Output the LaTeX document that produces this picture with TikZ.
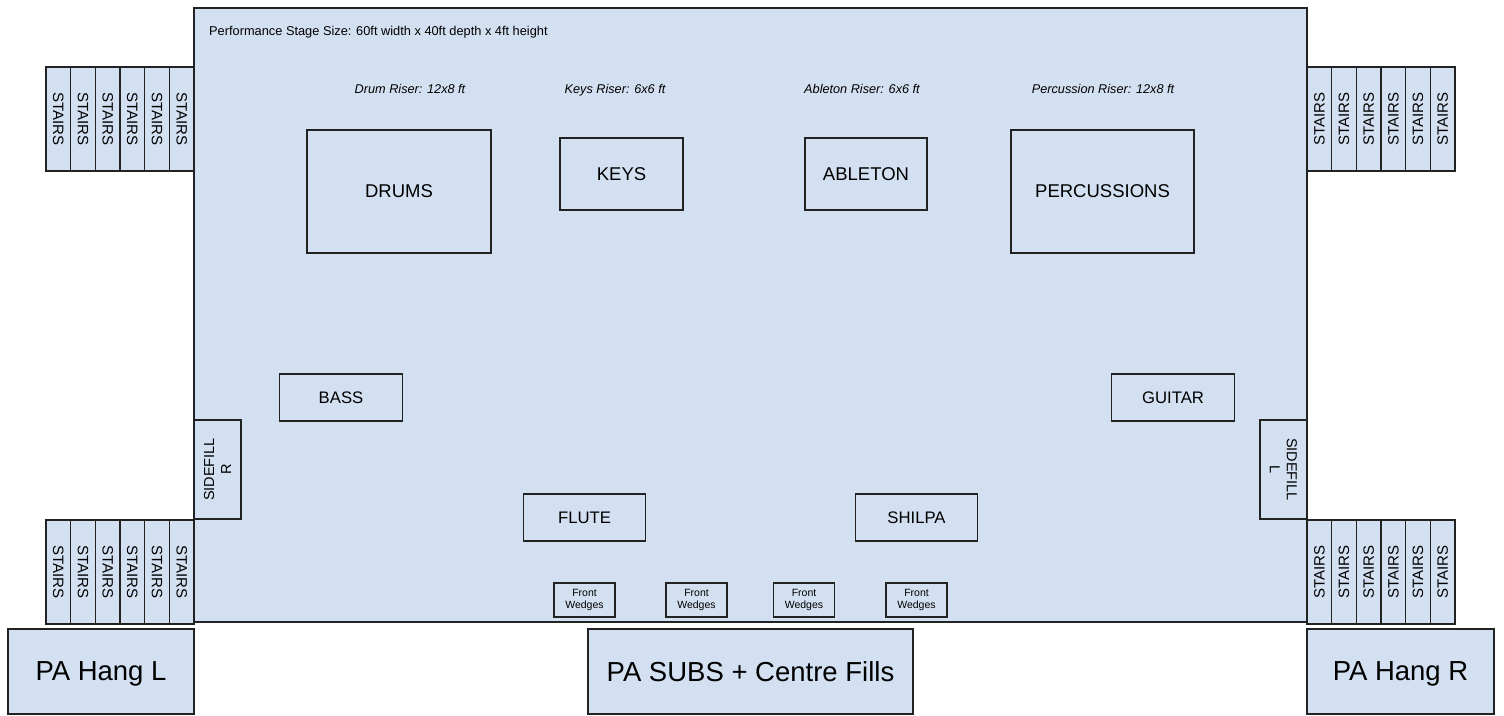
\documentclass[tikz,border=0pt]{standalone}
\usepackage{fontspec}
\setmainfont{Liberation Sans}
\usetikzlibrary{positioning}
\definecolor{stageblue}{RGB}{211,224,241}
\definecolor{edgegrey}{RGB}{34,34,34}
\newcommand{\fsz}[2]{\fontsize{#1}{#2}\selectfont}

\begin{document}
\begin{tikzpicture}[x=1pt, y=-1pt,
  box/.style={draw=edgegrey, line width=1.2pt, fill=stageblue, inner sep=0pt, align=center},
  stairbox/.style={box, minimum width=104, minimum height=24.67, font=\fsz{15}{17}},
  riserbox/.style={box, font=\fsz{18.5}{22}},
  playerbox/.style={box, minimum width=122.5, minimum height=47, font=\fsz{16.7}{20}},
  wedgebox/.style={box, minimum width=61, minimum height=34, font=\fsz{10.5}{12.5}},
  sidebox/.style={box, minimum width=99, minimum height=47, font=\fsz{14.5}{17}},
  pabox/.style={box, minimum height=85, text depth=0pt, font=\fsz{27.5}{32}},
  riserlabel/.style={anchor=base, inner sep=0pt, font=\fsz{12.7}{15}\itshape}
  ]
  \useasboundingbox (0,0) rectangle (1504,715);

  % stage
  \node [box, minimum width=1113, minimum height=614] (stage) at (750.5,315) {};
  \node [anchor=base west, inner sep=0pt, font=\fsz{12.8}{15}] (title) at (209,35) {Performance Stage Size: 60ft width x 40ft depth x 4ft height};

  % stairs, left reads downwards, right reads upwards
  \foreach \i in {0,...,5}{
    \node [stairbox, rotate=-90] (stlt\i) at ({46+24.67*(\i+0.5)},119) {STAIRS};
    \node [stairbox, rotate=-90] (stlb\i) at ({46+24.67*(\i+0.5)},572) {STAIRS};
    \node [stairbox, rotate=90] (strt\i) at ({1307+24.67*(\i+0.5)},119) {STAIRS};
    \node [stairbox, rotate=90] (strb\i) at ({1307+24.67*(\i+0.5)},572) {STAIRS};
  }

  % risers
  \foreach \n/\x/\t in {drum/410/Drum Riser: 12x8 ft, keys/615/Keys Riser: 6x6 ft,
    ableton/862/Ableton Riser: 6x6 ft, perc/1103/Percussion Riser: 12x8 ft}{
    \node [riserlabel] (\n label) at (\x,93) {\t};
  }
  \node [riserbox, minimum width=184, minimum height=123] (drums) at (399,191.5) {DRUMS};
  \node [riserbox, minimum width=123, minimum height=72] (keys) at (621.5,174) {KEYS};
  \node [riserbox, minimum width=122, minimum height=72] (ableton) at (866,174) {ABLETON};
  \node [riserbox, minimum width=183, minimum height=123] (perc) at (1102.5,191.5) {PERCUSSIONS};

  % players
  \node [playerbox] (bass) at (341,397.5) {BASS};
  \node [playerbox] (guitar) at (1173,397.5) {GUITAR};
  \node [playerbox] (flute) at (584.5,517.5) {FLUTE};
  \node [playerbox] (shilpa) at (916.5,517.5) {SHILPA};

  % side fills
  \node [sidebox, rotate=90] (sidefillr) at (217.5,469.5) {SIDEFILL\\R};
  \node [sidebox, rotate=-90] (sidefilll) at (1283.5,469.5) {SIDEFILL\\L};

  % wedges
  \foreach \x [count=\i] in {584.5, 696.5, 804, 916.5}{
    \node [wedgebox] (wedge\i) at (\x,600) {Front\\Wedges};
  }

  % PA
  \node [pabox, minimum width=186] (pal) at (101,671.5) {PA Hang L};
  \node [pabox, minimum width=325] (pasubs) at (750.5,671.5) {PA SUBS + Centre Fills};
  \node [pabox, minimum width=187] (par) at (1400.5,671.5) {PA Hang R};
\end{tikzpicture}
\end{document}
